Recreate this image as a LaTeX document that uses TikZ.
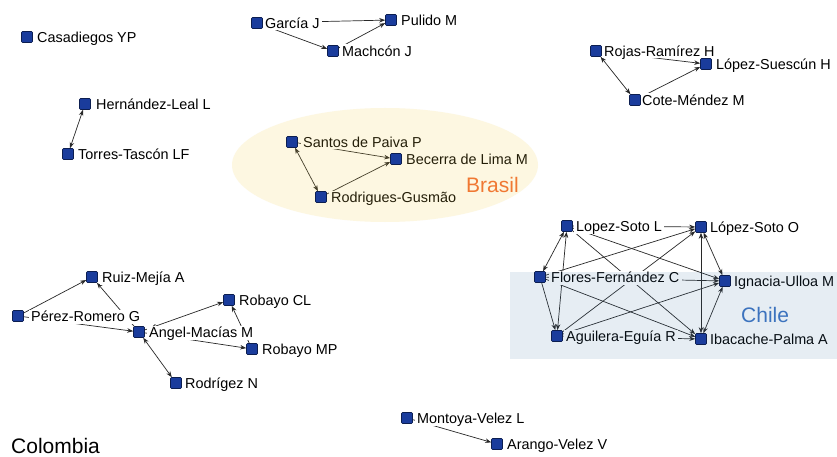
\documentclass[tikz,border=0pt]{standalone}
\usepackage{fontspec}
\setmainfont{Liberation Sans}
\usetikzlibrary{arrows.meta}
\pgfdeclarelayer{bglayer}
\pgfdeclarelayer{edgelayer}
\pgfdeclarelayer{lablayer}
\pgfdeclarelayer{ovlayer}
\pgfsetlayers{bglayer,edgelayer,lablayer,ovlayer,main}
\definecolor{sqfill}{RGB}{26,60,156}
\definecolor{sqdraw}{RGB}{12,30,80}
\definecolor{edgec}{RGB}{40,40,40}
\definecolor{brasilov}{RGB}{242,202,55}
\definecolor{chileov}{RGB}{55,113,163}
\definecolor{brasiltxt}{RGB}{240,120,50}
\definecolor{chiletxt}{RGB}{60,115,190}
\newcommand\mknode[5]{%
  \begin{pgfonlayer}{lablayer}
  \node[lab] (#1l) at (#4-3.5,#3+5.5) {#5};
  \end{pgfonlayer}
  \node[sq] (#1) at (#2,#3) {};}
\begin{document}
\begin{tikzpicture}[x=1pt,y=-1pt,
  sq/.style={draw=sqdraw, fill=sqfill, line width=0.6pt, minimum size=11pt, inner sep=0pt, rounded corners=1pt},
  lab/.style={anchor=base west, fill=white, inner xsep=2.5pt, inner ysep=1.5pt, text height=10.5pt, text depth=0.5pt, font=\fontsize{14.4}{16}\selectfont},
  tip/.tip={Stealth[length=6pt,width=4.5pt]},
  arr/.style={draw=edgec, line width=0.7pt, -tip},
  dbl/.style={draw=edgec, line width=0.7pt, tip-tip},
  big/.style={anchor=base west, inner sep=0pt, font=\fontsize{21}{24}\selectfont}
]
\useasboundingbox (0,0) rectangle (837,457);
\begin{pgfonlayer}{bglayer}
\fill[white] (0,0) rectangle (837,457);
\end{pgfonlayer}

\mknode{cas}{27}{37}{38}{Casadiegos YP}
\mknode{gar}{257}{23}{266}{García J}
\mknode{pul}{391}{20}{402}{Pulido M}
\mknode{mac}{333}{51}{343}{Machcón J}
\mknode{her}{85}{104}{97}{Hernández-Leal L}
\mknode{tor}{68}{154}{79}{Torres-Tascón LF}
\mknode{san}{292}{142}{304}{Santos de Paiva P}
\mknode{bec}{396}{159}{407}{Becerra de Lima M}
\mknode{rod}{321}{197}{332}{Rodrigues-Gusmão}
\mknode{roj}{596}{51}{605}{Rojas-Ramírez H}
\mknode{lsu}{706}{64}{717}{López-Suescún H}
\mknode{cot}{635}{100}{643}{Cote-Méndez M}
\mknode{rui}{92}{277}{103}{Ruiz-Mejía A}
\mknode{per}{18}{316}{32}{Pérez-Romero G}
\mknode{ang}{139}{332}{150}{Ángel-Macías M}
\mknode{rcl}{229}{300}{240}{Robayo CL}
\mknode{rmp}{252}{349}{263}{Robayo MP}
\mknode{rdn}{176}{383}{186}{Rodrígez N}
\mknode{lsl}{567}{226}{577}{Lopez-Soto L}
\mknode{lso}{701}{227}{711}{López-Soto O}
\mknode{ffc}{540}{277}{552}{Flores-Fernández C}
\mknode{ium}{725}{281}{735}{Ignacia-Ulloa M}
\mknode{aer}{557}{336}{567}{Aguilera-Eguía R}
\mknode{ipa}{701}{339}{711}{Ibacache-Palma A}
\mknode{mon}{407}{418}{418}{Montoya-Velez L}
\mknode{ara}{497}{444}{508}{Arango-Velez V}

\begin{pgfonlayer}{edgelayer}
\draw[dbl] (her) -- (tor);
\draw[arr] (gar) -- (pul);
\draw[arr] (gar) -- (mac);
\draw[arr] (mac) -- (pul);
\draw[dbl] (san) -- (rod);
\draw[arr] (san) -- (bec);
\draw[arr] (rod) -- (bec);
\draw[dbl] (roj) -- (cot);
\draw[arr] (roj) -- (lsu);
\draw[arr] (cot) -- (lsu);
\draw[arr] (per) -- (rui);
\draw[arr] (ang) -- (rui);
\draw[arr] (per) -- (ang);
\draw[dbl] (ang) -- (rdn);
\draw[arr] (ang) -- (rcl);
\draw[arr] (rmp) -- (rcl);
\draw[arr] (ang) -- (rmp);
\draw[arr] (mon) -- (ara);
\draw[arr] (lsl) -- (lso);
\draw[dbl] (lsl) -- (ffc);
\draw[dbl] (lsl) -- (aer);
\draw[arr] (lsl) -- (ium);
\draw[arr] (lsl) -- (ipa);
\draw[arr] (ffc) -- (lso);
\draw[arr] (aer) -- (lso);
\draw[dbl] (lso) -- (ium);
\draw[dbl] (lso) -- (ipa);
\draw[arr] (ffc) -- (ium);
\draw[arr] (ffc) -- (aer);
\draw[arr] (ffc) -- (ipa);
\draw[arr] (aer) -- (ium);
\draw[arr] (aer) -- (ipa);
\draw[dbl] (ium) -- (ipa);
\end{pgfonlayer}

\begin{pgfonlayer}{ovlayer}
\fill[brasilov, fill opacity=0.15] (385,165) ellipse [x radius=153pt, y radius=57pt];
\fill[chileov, fill opacity=0.12] (510,272) rectangle (837,359);
\end{pgfonlayer}

\node[big, text=brasiltxt] (brasil) at (466,193) {Brasil};
\node[big, text=chiletxt] (chile) at (741,322) {Chile};
\node[big] (colombia) at (11,453) {Colombia};
\end{tikzpicture}
\end{document}
